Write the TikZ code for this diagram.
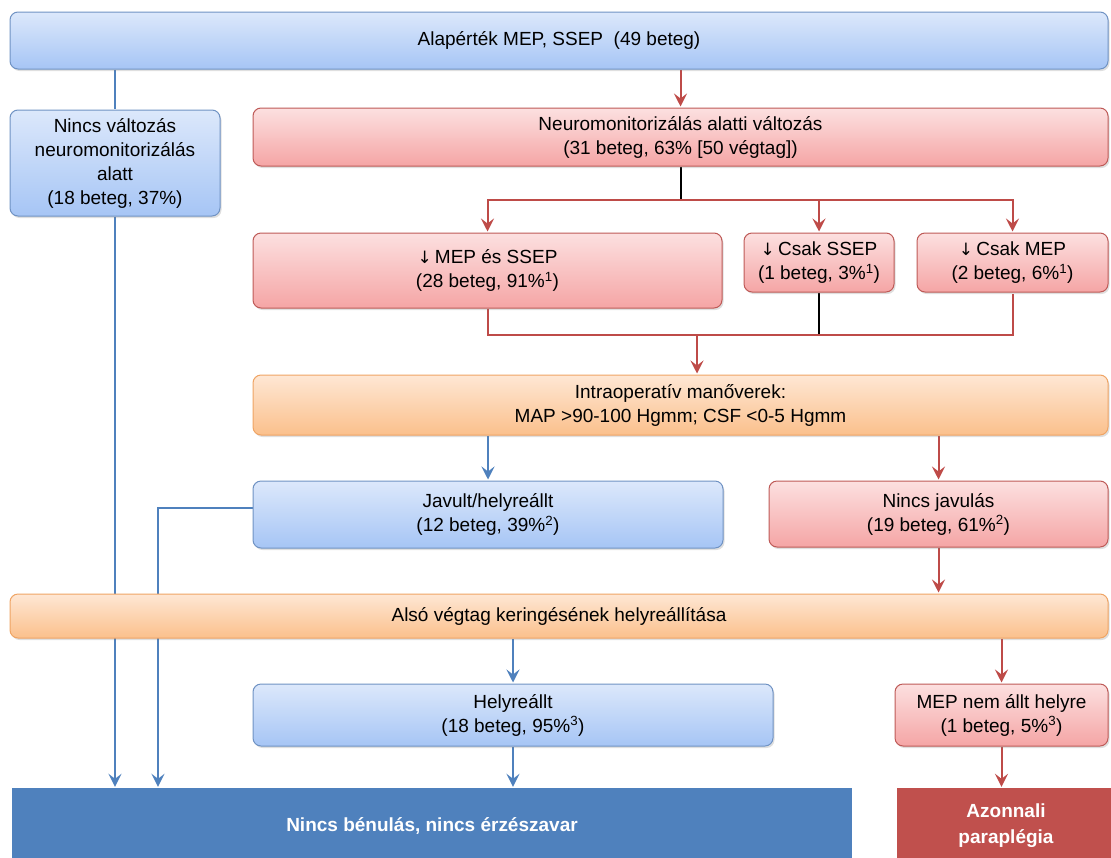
\documentclass[tikz,border=0pt]{standalone}
\usepackage{fontspec}
\setmainfont{Liberation Sans}
\newfontfamily\arrowfont{DejaVu Sans}
\usetikzlibrary{arrows.meta,shadows,backgrounds}

\definecolor{bluetop}{HTML}{DCE8FB}
\definecolor{bluebot}{HTML}{A6C5F5}
\definecolor{blueedge}{HTML}{6F92C3}
\definecolor{redtop}{HTML}{FCE0E0}
\definecolor{redbot}{HTML}{F5A5A5}
\definecolor{rededge}{HTML}{BE5A57}
\definecolor{orangetop}{HTML}{FEE7D4}
\definecolor{orangebot}{HTML}{FBC08C}
\definecolor{orangeedge}{HTML}{EFA464}
\definecolor{goodfill}{HTML}{4F81BD}
\definecolor{badfill}{HTML}{C0504D}
\definecolor{blueconn}{HTML}{4F81BD}
\definecolor{redconn}{HTML}{BE4B48}

\newcommand{\down}{{\arrowfont\fontsize{17}{24}\selectfont ↓}}

\begin{document}
\begin{tikzpicture}[x=1pt,y=-1pt,shorten >=1pt,
    >={Stealth[length=13pt,width=13pt,inset=5pt]},
    font=\fontsize{19}{24}\selectfont,
    box/.style={rounded corners=8pt,draw,line width=1pt,align=center,
      inner sep=0pt,shading=axis,
      drop shadow={opacity=0.25,shadow xshift=1.5pt,shadow yshift=-2pt}},
    bluebox/.style={box,draw=blueedge,top color=bluetop,bottom color=bluebot},
    redbox/.style={box,draw=rededge,top color=redtop,bottom color=redbot},
    orangebox/.style={box,draw=orangeedge,top color=orangetop,bottom color=orangebot},
    endbox/.style={inner sep=0pt,align=center,text=white,
      font=\bfseries\fontsize{19}{26}\selectfont},
    blueline/.style={draw=blueconn,line width=2pt},
    redline/.style={draw=redconn,line width=2pt},
    blackline/.style={draw=black,line width=2pt}]

  \useasboundingbox (0,0) rectangle (1111,857);

  % boxes
  \node[bluebox,minimum width=1098pt,minimum height=57pt] (base) at (559,40.5)
    {Alapérték MEP, SSEP\ \ (49 beteg)};
  \node[bluebox,minimum width=210pt,minimum height=106pt] (nochange) at (115,163)
    {Nincs változás\\neuromonitorizálás\\alatt\\(18 beteg, 37\%)};
  \node[redbox,minimum width=855pt,minimum height=58pt] (change) at (680.5,137)
    {Neuromonitorizálás alatti változás\\(31 beteg, 63\% [50 végtag])};
  \node[redbox,minimum width=469pt,minimum height=75pt] (both) at (487.5,270.5)
    {\down\,MEP és SSEP\\(28 beteg, 91\%\textsuperscript{1})};
  \node[redbox,minimum width=150pt,minimum height=59pt] (ssep) at (819,262.5)
    {\down\,Csak SSEP\\(1 beteg, 3\%\textsuperscript{1})};
  \node[redbox,minimum width=191pt,minimum height=59pt] (mep) at (1012.5,262.5)
    {\down\,Csak MEP\\(2 beteg, 6\%\textsuperscript{1})};
  \node[orangebox,minimum width=855pt,minimum height=60pt] (intra) at (680.5,405)
    {Intraoperatív manőverek:\\MAP >90-100 Hgmm; CSF <0-5 Hgmm};
  \node[bluebox,minimum width=470pt,minimum height=67pt] (improved) at (488,514.5)
    {Javult/helyreállt\\(12 beteg, 39\%\textsuperscript{2})};
  \node[redbox,minimum width=339pt,minimum height=66pt] (noimprove) at (938.5,514)
    {Nincs javulás\\(19 beteg, 61\%\textsuperscript{2})};
  \node[orangebox,minimum width=1098pt,minimum height=44pt] (restore) at (559,616)
    {Alsó végtag keringésének helyreállítása};
  \node[bluebox,minimum width=520pt,minimum height=62pt] (restored) at (513,715)
    {Helyreállt\\(18 beteg, 95\%\textsuperscript{3})};
  \node[redbox,minimum width=213pt,minimum height=62pt] (notrest) at (1001.5,715)
    {MEP nem állt helyre\\(1 beteg, 5\%\textsuperscript{3})};
  \node[endbox,fill=goodfill,minimum width=840pt,minimum height=76pt] (good) at (432,826)
    {Nincs bénulás, nincs érzészavar};
  \node[endbox,fill=badfill,minimum width=218pt,minimum height=76pt] (para) at (1006,826)
    {Azonnali\\paraplégia};

  % connectors
  \begin{scope}[on background layer]
    \coordinate (drop) at (158,0);
    \coordinate (join) at (697,335);
    \draw[blueline] (base.south -| nochange.north) -- (nochange.north);
    \draw[blueline,->] (nochange.south) -- (nochange.south |- good.north);
    \draw[blueline,->] ([yshift=7pt]improved.west) -| (drop |- good.north);
    \draw[redline,->] (base.south -| change.north) -- (change.north);
    \draw[blackline] (change.south) -- ++(0,33) coordinate (split);
    \draw[redline,->] (split) -| (both.north);
    \draw[redline,->] (split) -| (ssep.north);
    \draw[redline,->] (split) -| (mep.north);
    \draw[redline] (both.south) |- (join) -| (mep.south);
    \draw[blackline] (ssep.south) -- (ssep.south |- join);
    \draw[redline,->] (join) -- (join |- intra.north);
    \path[->]
      (intra.south -| improved.north) edge[blueline] (improved.north)
      (intra.south -| noimprove.north) edge[redline] (noimprove.north)
      (noimprove.south) edge[redline] (noimprove.south |- restore.north)
      (restore.south -| restored.north) edge[blueline] (restored.north)
      (restore.south -| notrest.north) edge[redline] (notrest.north)
      (restored.south) edge[blueline] (restored.south |- good.north)
      (notrest.south) edge[redline] (notrest.south |- para.north);
  \end{scope}
\end{tikzpicture}
\end{document}
